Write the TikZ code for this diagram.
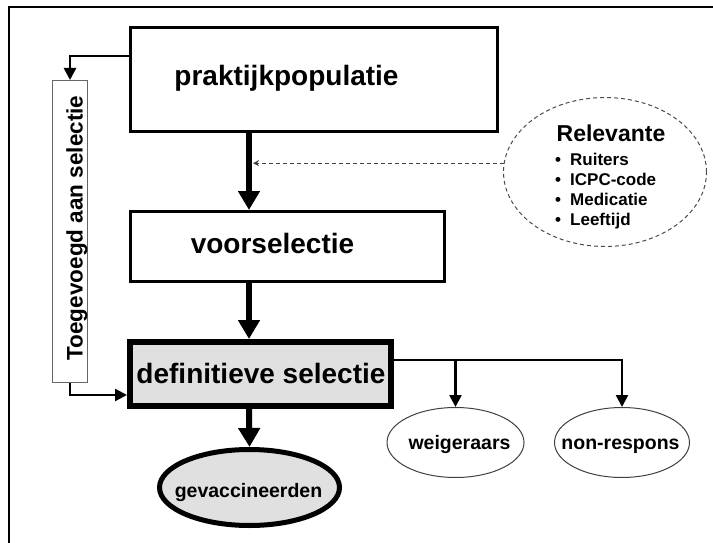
\documentclass[tikz,border=0pt]{standalone}
\usepackage{fontspec}
\setmainfont{Liberation Sans}
\usetikzlibrary{arrows.meta,shapes.geometric}
\begin{document}
\begin{tikzpicture}[x=1pt,y=-1pt,
  box/.style={draw, rectangle, line width=3pt, inner sep=0pt},
  mainarrow/.style={line width=6pt, -{Triangle[width=21pt,length=19pt]}},
  secarrow/.style={line width=2.5pt, -{Triangle[width=12pt,length=12pt]}},
  bigtext/.style={font=\fontsize{28}{30}\selectfont\bfseries, inner sep=0pt, anchor=base},
  smalltext/.style={font=\fontsize{19.5}{22}\selectfont\bfseries, inner sep=0pt, anchor=base},
  bullettext/.style={font=\fontsize{17}{20}\selectfont\bfseries, inner sep=0pt, anchor=base west},
  oval/.style={ellipse, draw=black!75, line width=1pt, inner sep=0pt},
  dashline/.style={line width=1pt, draw=black!75, dash pattern=on 4pt off 3pt},
  shade/.style={fill=black!12}
  ]
\useasboundingbox (0,0) rectangle (713,543);
\fill[white] (0,0) rectangle (713,543);
% frame
\draw[line width=2pt] (9,543) -- (9,7) -- (713,7);

% boxes
\node[box, minimum width=367pt, minimum height=104pt] (pp) at (314,79.5) {};
\node[bigtext] (ppt) at (286.5,85) {praktijkpopulatie};

\node[box, minimum width=314pt, minimum height=70pt] (vs) at (287.5,246.5) {};
\node[bigtext] (vst) at (272.5,253) {voorselectie};

\node[box, line width=6pt, shade, minimum width=261pt, minimum height=64pt] (def) at (260.5,374) {};
\node[bigtext] (deft) at (261,383) {definitieve selectie};

\node[ellipse, draw, line width=5pt, shade, minimum width=180pt, minimum height=76pt, inner sep=0pt] (gev) at (249.5,487.5) {};
\node[smalltext] (gevt) at (248.5,497) {gevaccineerden};

\node[oval, minimum width=137pt, minimum height=70pt] (wei) at (455.5,442.5) {};
\node[smalltext] (weit) at (459.5,449) {weigeraars};

\node[oval, minimum width=135pt, minimum height=70pt] (non) at (622,442.5) {};
\node[smalltext] (nont) at (620.5,449) {non-respons};

\node[draw=black!60, line width=1pt, rectangle, minimum width=35pt, minimum height=302pt, inner sep=0pt] (toe) at (70,231.5) {};
\node[rotate=90, font=\fontsize{22.5}{25}\selectfont\bfseries, inner sep=0pt, anchor=base] (toet) at (82.5,228) {Toegevoegd aan selectie};

% relevante
\node[ellipse, dashline, draw=black!70, minimum width=203pt, minimum height=149pt, inner sep=0pt] (rel) at (605,172) {};
\node[font=\fontsize{23}{25}\selectfont\bfseries, inner sep=0pt, anchor=base] (relt) at (611,142) {Relevante};
\node[bullettext] (b1) at (555,165) {\makebox[15pt][l]{\textbullet}Ruiters};
\node[bullettext] (b2) at (555,185) {\makebox[15pt][l]{\textbullet}ICPC-code};
\node[bullettext] (b3) at (555,205) {\makebox[15pt][l]{\textbullet}Medicatie};
\node[bullettext] (b4) at (555,225) {\makebox[15pt][l]{\textbullet}Leeftijd};

% connectors
\coordinate (ax) at (249,0);
\coordinate (tap) at (253,0);
\draw[mainarrow] (pp.south -| ax) -- (vs.north -| ax);
\draw[mainarrow] (vs.south -| ax) -- (def.north -| ax);
\draw[mainarrow] (def.south -| ax) -- (gev.north);

\draw[dashline, -{Stealth[width=6pt,length=6pt]}] (rel.175) -- (rel.175 -| tap);

\draw[secarrow] ([yshift=23.5pt]pp.west) -| (toe.north);
\draw[secarrow] (toe.south) |- ([yshift=-21pt]def.west);
\coordinate (hl) at ([yshift=14pt]def.east);
\draw[secarrow] (hl) -| (non.north);
\draw[secarrow] (hl -| wei.north) -- (wei.north);
\end{tikzpicture}
\end{document}
